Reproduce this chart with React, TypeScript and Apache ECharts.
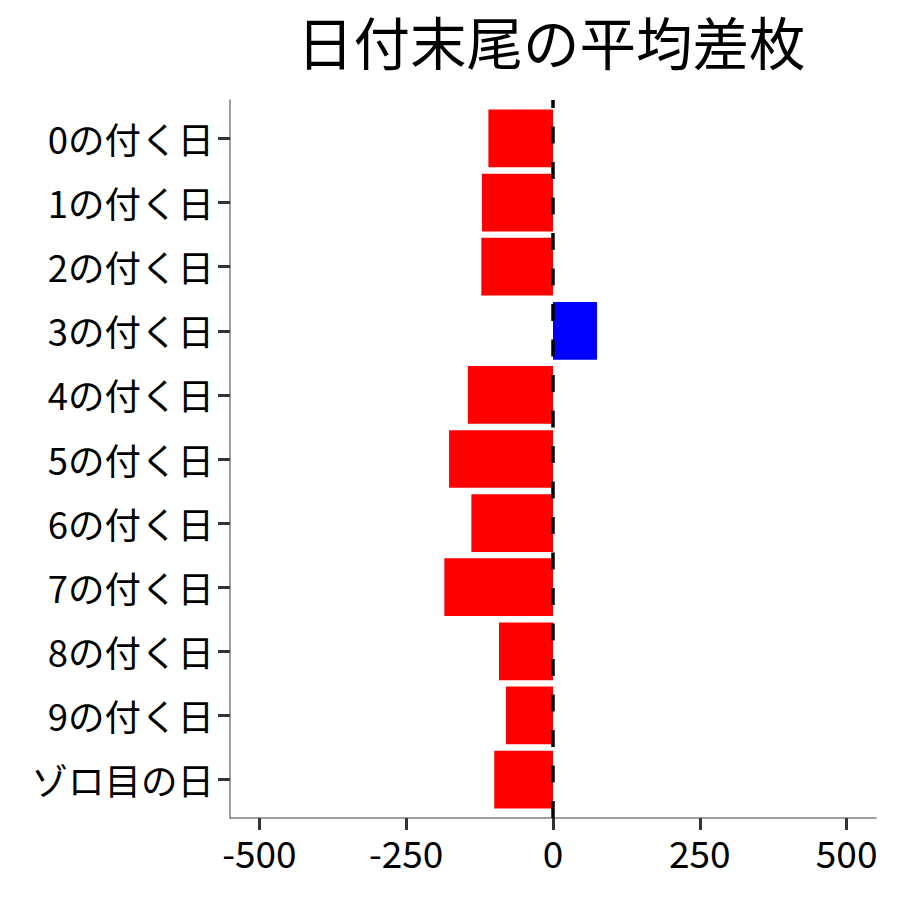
import React, { useEffect, useRef } from "react";
import * as echarts from "echarts";

const categories = [
  "0の付く日",
  "1の付く日",
  "2の付く日",
  "3の付く日",
  "4の付く日",
  "5の付く日",
  "6の付く日",
  "7の付く日",
  "8の付く日",
  "9の付く日",
  "ゾロ目の日",
];
const values = [-110, -121, -122, 75, -145, -177, -139, -185, -92, -80, -100];
const xTicks = [-500, -250, 0, 250, 500];
const titleText = "日付末尾の平均差枚";

const FONT = "Noto Sans CJK JP";

export default function App() {
  const ref = useRef<HTMLDivElement>(null);
  useEffect(() => {
    document.body.style.margin = "0";
    const chart = echarts.init(ref.current!, null, { renderer: "svg" });
    const catIdx = categories.map((_, i) => i + 1);
    chart.setOption({
      animation: false,
      backgroundColor: "#ffffff",
      title: {
        text: titleText,
        left: 292,
        top: 7,
        textStyle: { fontFamily: FONT, fontSize: 56.5, fontWeight: "normal", color: "#000" },
      },
      grid: { left: 230, right: 24, top: 100, bottom: 82 },
      xAxis: {
        type: "value",
        min: -550,
        max: 550,
        splitLine: { show: false },
        axisLine: { show: true, onZero: false, lineStyle: { color: "#7f7f7f", width: 1.5 } },
        axisTick: { show: true, length: 12, customValues: xTicks, lineStyle: { color: "#333", width: 3 } },
        axisLabel: {
          customValues: xTicks,
          margin: 15,
          fontFamily: FONT,
          fontSize: 37,
          color: "#000",
        },
      },
      yAxis: {
        type: "value",
        min: 0.4,
        max: 11.6,
        inverse: true,
        splitLine: { show: false },
        axisLine: { show: true, onZero: false, lineStyle: { color: "#7f7f7f", width: 1.5 } },
        axisTick: { show: true, length: 12, customValues: catIdx, lineStyle: { color: "#333", width: 3 } },
        axisLabel: {
          customValues: catIdx,
          margin: 16,
          fontFamily: FONT,
          fontSize: 36.5,
          color: "#000",
          formatter: (v: number) => categories[Math.round(v) - 1] ?? "",
        },
      },
      series: [
        {
          type: "custom",
          data: values.map((v, i) => [v, i + 1]),
          encode: { x: 0, y: 1 },
          renderItem: (params: any, api: any) => {
            const v = api.value(0);
            const idx = api.value(1);
            const p0 = api.coord([0, idx]);
            const p1 = api.coord([v, idx]);
            const h = api.size([0, 0.9])[1];
            return {
              type: "rect",
              shape: {
                x: Math.min(p0[0], p1[0]),
                y: p0[1] - h / 2,
                width: Math.abs(p1[0] - p0[0]),
                height: h,
              },
              style: { fill: v >= 0 ? "#0000ff" : "#ff0000" },
            };
          },
          z: 2,
        },
        {
          type: "line",
          data: [
            [0, 0.4],
            [0, 11.6],
          ],
          symbol: "none",
          lineStyle: { color: "#000", width: 3.5, type: [17, 18.5], dashOffset: 8.5 },
          z: 3,
          silent: true,
        },
      ],
    });
    return () => chart.dispose();
  }, []);
  return <div ref={ref} style={{ width: 900, height: 900 }} />;
}
